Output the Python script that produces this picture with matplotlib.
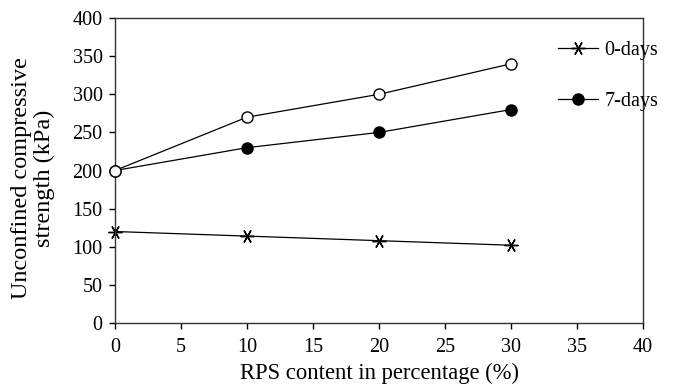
import matplotlib
matplotlib.use("Agg")
import matplotlib.pyplot as plt

plt.rcParams['font.family'] = ['Liberation Serif', 'DejaVu Serif']

rps = [0, 10, 20, 30]
days0 = [120, 114, 108, 102]
days7 = [200, 230, 250, 280]
days28 = [200, 270, 300, 340]
xticks = [0, 5, 10, 15, 20, 25, 30, 35, 40]
yticks = [0, 50, 100, 150, 200, 250, 300, 350, 400]

fig = plt.figure(figsize=(6.87, 3.86), dpi=100)
ax = fig.add_axes([0.1674, 0.1632, 0.7686, 0.79])

star = (6, 2, 90)
ax.plot(rps, days0, color='black', lw=0.9, marker=star, ms=10, mew=1.0,
        label='0-days', clip_on=False)
ax.plot(rps, days7, color='black', lw=0.9, marker='o', ms=8, mfc='black',
        mec='black', label='7-days', clip_on=False)
ax.plot(rps, days28, color='black', lw=0.9, marker='o', ms=8, mfc='white',
        mec='black', mew=1.0, clip_on=False, zorder=5)

ax.set_xlim(0, 40)
ax.set_ylim(0, 400)
ax.set_xticks(xticks)
ax.set_yticks(yticks)
ax.tick_params(direction='out', length=4, width=1, labelsize=14.5, pad=5)
ax.tick_params(axis='x', pad=7)
for s in ax.spines.values():
    s.set_linewidth(1.0)
    s.set_color('#333333')

ax.set_xlabel('RPS content in percentage (%)', fontsize=16.3, labelpad=4)
ax.set_ylabel('Unconfined compressive\nstrength (kPa)', fontsize=17.5,
              linespacing=1.15, va='center')
ax.yaxis.set_label_coords(-0.155, 0.475)

ax.legend(loc='upper left', bbox_to_anchor=(0.805, 0.985), frameon=False,
          fontsize=14.5, labelspacing=1.6, handlelength=2.0, handletextpad=0.3)

fig.savefig('out.png', dpi=100)
